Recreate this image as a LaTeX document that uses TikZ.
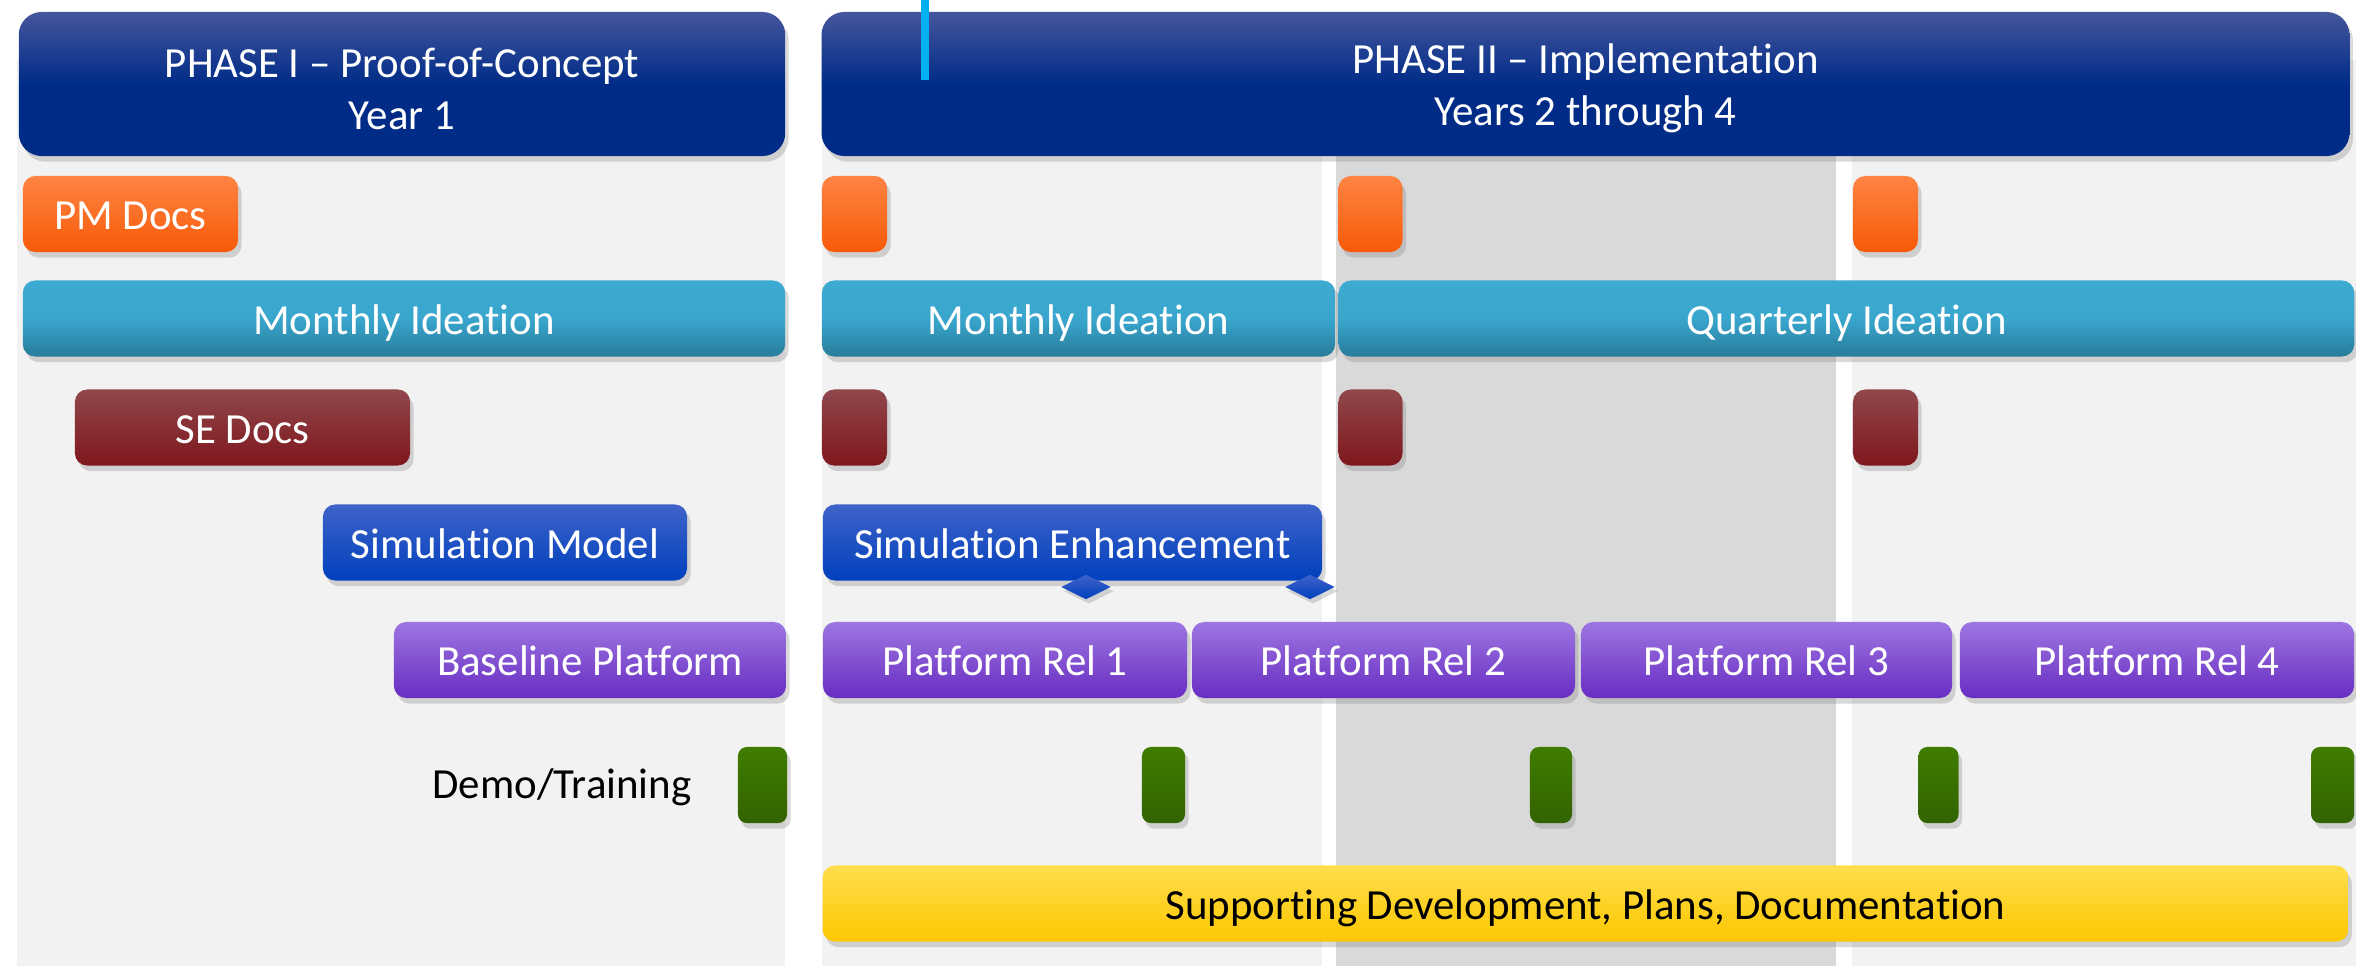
\documentclass[tikz,border=0pt]{standalone}
\usepackage{fontspec}
\setmainfont{Carlito}[Ligatures={TeX,NoCommon}]
\usetikzlibrary{shadows,
  shapes.geometric
}

% keeps t and i apart (no ti ligature)
\newcommand*{\tisep}{\kern0pt}

\definecolor{panelLight}{HTML}{F2F2F2}
\definecolor{panelDark}{HTML}{D9D9D9}
\definecolor{hdrTop}{HTML}{45569C}
\definecolor{hdrBot}{HTML}{002C88}
\definecolor{pmTop}{HTML}{FF8443}
\definecolor{pmBot}{HTML}{F75A08}
\definecolor{ideaTop}{HTML}{3DAAD2}
\definecolor{ideaMid}{HTML}{39A6CE}
\definecolor{ideaBot}{HTML}{287C99}
\definecolor{seTop}{HTML}{90474C}
\definecolor{seBot}{HTML}{7E171D}
\definecolor{simTop}{HTML}{3F63C9}
\definecolor{simBot}{HTML}{0040BD}
\definecolor{platTop}{HTML}{9D76E1}
\definecolor{platBot}{HTML}{682DC2}
\definecolor{demoTop}{HTML}{3F7C00}
\definecolor{demoBot}{HTML}{326300}
\definecolor{supTop}{HTML}{FFDE4E}
\definecolor{supBot}{HTML}{FCC700}
\definecolor{markLine}{HTML}{00B0F0}

\tikzset{
  boxbase/.style={rounded corners=3.5pt, inner sep=0pt, minimum height=0.76cm,
    text=white, font=\fontsize{12.2}{14.8}\selectfont,
    drop shadow={shadow xshift=1pt, shadow yshift=-1.6pt, opacity=0.3}},
  bar/.style={boxbase, text height=2.2ex, text depth=0.3ex},
  phase/.style={boxbase, rounded corners=6.5pt, minimum height=1.44cm, align=center,
    top color=hdrTop, bottom color=hdrBot, middle color=hdrBot},
  pmbox/.style={bar, top color=pmTop, bottom color=pmBot},
  ideabox/.style={bar, top color=ideaTop, bottom color=ideaBot, middle color=ideaMid},
  sebox/.style={bar, top color=seTop, bottom color=seBot},
  simbox/.style={bar, top color=simTop, bottom color=simBot},
  platbox/.style={bar, top color=platTop, bottom color=platBot},
  demobox/.style={bar, rounded corners=2.5pt, top color=demoTop, bottom color=demoBot},
  supbox/.style={bar, text=black, top color=supTop, bottom color=supBot},
  milestone/.style={diamond, inner sep=0pt, minimum width=0.5cm, minimum height=0.25cm,
    top color=simTop, bottom color=simBot,
    drop shadow={shadow xshift=0.8pt, shadow yshift=-1.2pt, opacity=0.3}}
}

\begin{document}
\begin{tikzpicture}[x=0.01cm,y=-0.01cm]
  \useasboundingbox (0,0) rectangle (2356,966);

  % background bands
  \fill[panelLight] (17,60) rectangle (785,966);
  \fill[panelLight] (822,60) rectangle (1322,966);
  \fill[panelDark] (1336,60) rectangle (1836,966);
  \fill[panelLight] (1852,60) rectangle (2356,966);

  \node[phase, minimum width=7.66cm] (phaseOne) at (402,84)
  {\rule{0pt}{11pt}PHASE I -- Proof-of-Concept\\Year 1};
  \node[phase, minimum width=15.27cm] (phaseTwo) at (1585.5,84)
  {\rule{0pt}{11pt}PHASE II -- Implementat\tisep ion\\Years 2 through 4};
  \draw[markLine, line width=0.08cm] (925,0) -- (925,80);

  \node[pmbox, minimum width=2.15cm] (pmDocs) at (130.5,214) {PM Docs};
  \node[pmbox, minimum width=0.65cm] (pmDocsA) at (854.5,214) {};
  \node[pmbox, minimum width=0.64cm] (pmDocsB) at (1370.5,214) {};
  \node[pmbox, minimum width=0.65cm] (pmDocsC) at (1885.5,214) {};

  \node[ideabox, minimum width=7.62cm] (ideaOne) at (404,318.5) {Monthly Ideat\tisep ion};
  \node[ideabox, minimum width=5.13cm] (ideaTwo) at (1078.5,318.5) {Monthly Ideat\tisep ion};
  \node[ideabox, minimum width=10.15cm] (ideaThree) at (1846.5,318.5) {Quarterly Ideat\tisep ion};

  \node[sebox, minimum width=3.35cm] (seDocs) at (242.5,427.5) {SE Docs};
  \node[sebox, minimum width=0.65cm] (seDocsA) at (854.5,427.5) {};
  \node[sebox, minimum width=0.64cm] (seDocsB) at (1370.5,427.5) {};
  \node[sebox, minimum width=0.65cm] (seDocsC) at (1885.5,427.5) {};

  \node[simbox, minimum width=3.64cm] (simModel) at (505,542.5) {Simulat\tisep ion Model};
  \node[simbox, minimum width=4.99cm] (simEnh) at (1072.5,542.5) {Simulat\tisep ion Enhancement};
  \node[milestone] (mileA) at (1086,587) {};
  \node[milestone] (mileB) at (1310,587) {};

  \node[platbox, minimum width=3.92cm] (basePlat) at (590,660) {Baseline Platform};
  \node[platbox, minimum width=3.64cm] (relOne) at (1005,660) {Platform Rel 1};
  \node[platbox, minimum width=3.83cm] (relTwo) at (1383.5,660) {Platform Rel 2};
  \node[platbox, minimum width=3.71cm] (relThree) at (1766.5,660) {Platform Rel 3};
  \node[platbox, minimum width=3.94cm] (relFour) at (2157,660) {Platform Rel 4};

  \node[font=\fontsize{12.2}{14.8}\selectfont, text height=2.2ex, text depth=0.3ex]
  (demoLabel) at (562,783) {Demo/Training};
  \node[demobox, minimum width=0.49cm] (demoA) at (762.5,785) {};
  \node[demobox, minimum width=0.43cm] (demoB) at (1163.5,785) {};
  \node[demobox, minimum width=0.42cm] (demoC) at (1551,785) {};
  \node[demobox, minimum width=0.40cm] (demoD) at (1938.5,785) {};
  \node[demobox, minimum width=0.43cm] (demoE) at (2332.5,785) {};

  \node[supbox, minimum width=15.25cm] (support) at (1585.5,903.5)
  {Supporting Development, Plans, Documentat\tisep ion};
\end{tikzpicture}
\end{document}
